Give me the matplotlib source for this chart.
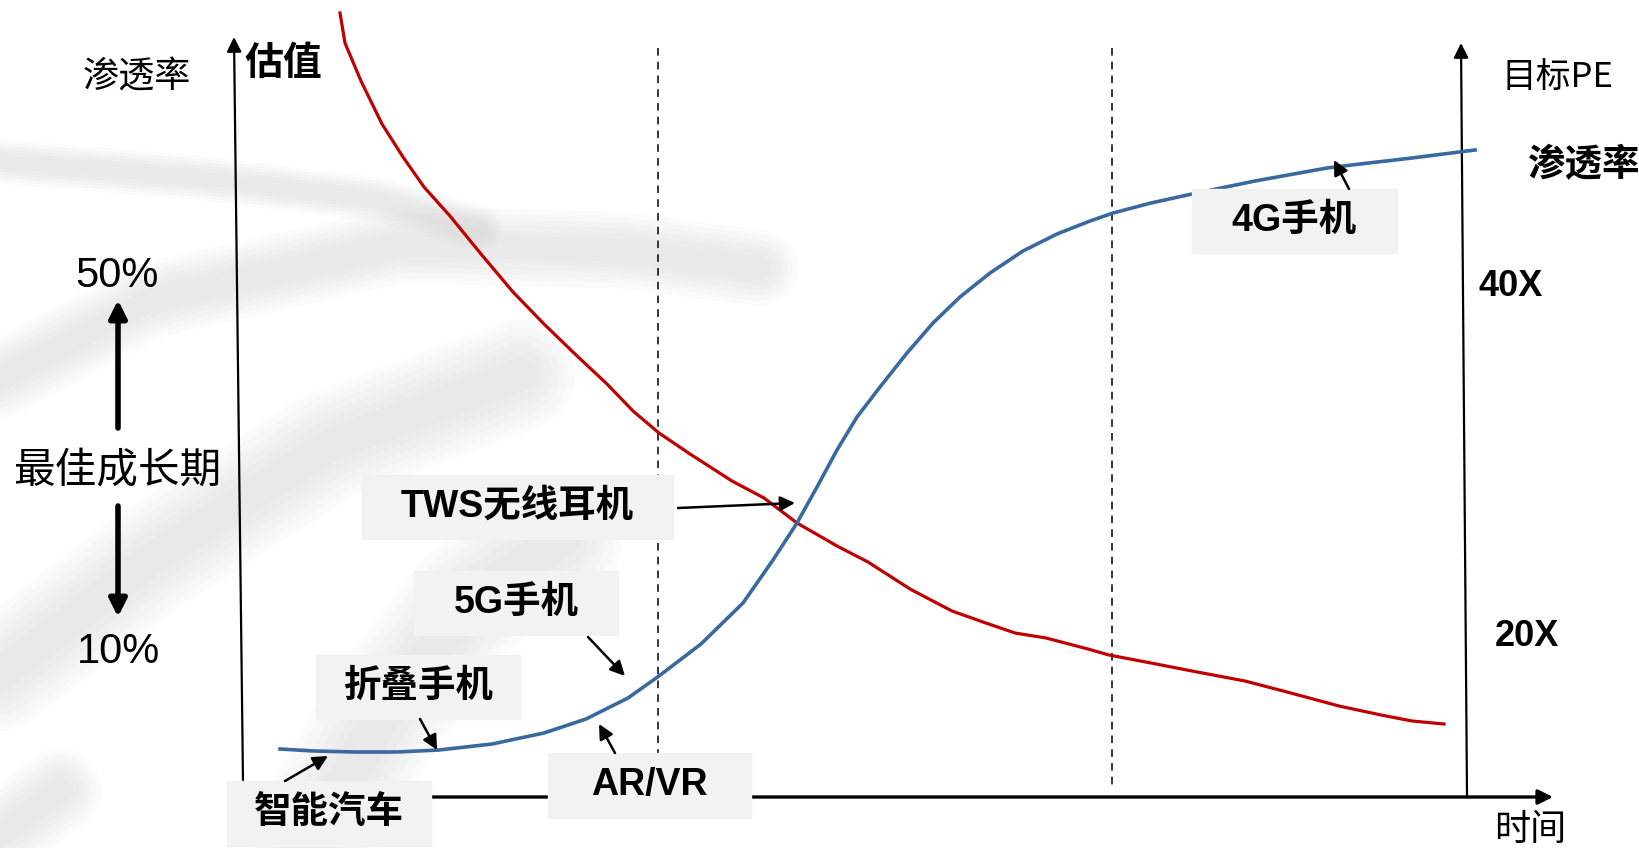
import matplotlib

matplotlib.use("Agg")

import matplotlib.pyplot as plt  # noqa: E402
import numpy as np  # noqa: E402
from matplotlib.patches import Rectangle  # noqa: E402

# Diagram drawn in picture units: x = time (left -> right), y = height from top.
# Valuation (target PE) curve, red.
pe_x = [340, 345, 361, 382, 403, 424, 450, 481, 513, 544, 575, 607, 633, 659,
        690, 732, 764, 797, 837, 868, 910, 952, 983, 1015, 1046, 1088, 1109,
        1151, 1192, 1245, 1287, 1339, 1381, 1412, 1444]
pe_y = [13, 43, 81, 124, 157, 187, 216, 254, 292, 324, 354, 384, 411, 433,
        454, 481, 498, 523, 546, 562, 589, 611, 622, 633, 638, 649, 655,
        663, 671, 681, 692, 706, 715, 721, 724]

# Penetration curve, blue (S-curve).
pen_x = [280, 314, 356, 397, 439, 492, 544, 586, 628, 659, 701, 743, 773, 797,
         817, 837, 857, 880, 907, 933, 960, 990, 1023, 1057, 1090, 1113, 1151,
         1192, 1255, 1327, 1360, 1412, 1475]
pen_y = [749, 751, 752, 752, 750, 744, 733, 719, 698, 676, 644, 603, 560, 523,
         487, 450, 417, 387, 353, 323, 297, 273, 251, 234, 221, 213, 203,
         194, 181, 168, 164, 158, 150]

# Stage boundaries on the time axis.
stage_x = [658, 1112]

# Products placed on the penetration curve.
products = ["TWS无线耳机", "5G手机", "折叠手机", "智能汽车", "AR/VR", "4G手机"]
# label box (x0, y0, x1, y1), arrow start, arrow end
product_layout = {
    "TWS无线耳机": ((362, 475, 673, 539), (678, 508), (795, 503)),
    "5G手机": ((414, 571, 618, 635), (588, 637), (625, 676)),
    "折叠手机": ((316, 655, 520, 719), (420, 719), (437, 750)),
    "智能汽车": ((227, 781, 431, 846), (285, 781), (328, 756)),
    "AR/VR": ((548, 753, 751, 818), (615, 753), (599, 724)),
    "4G手机": ((1192, 189, 1397, 253), (1349, 189), (1334, 160)),
}

BOLD = ["Liberation Sans", "Noto Sans CJK SC"]
CJK = ["Noto Sans CJK SC", "DejaVu Sans"]
RED = "#c00000"
BLUE = "#3869a0"
BOX = "#f2f2f2"

fig = plt.figure(figsize=(16.4, 8.48), dpi=100)
ax = fig.add_axes([0, 0, 1, 1])
ax.set_xlim(0, 1640)
ax.set_ylim(848, 0)
ax.axis("off")


def soft_band(pts, width):
    """Faint watermark stroke with blurred edges (stacked translucent strokes)."""
    xs, ys = zip(*pts)
    for w in np.linspace(width, width * 0.3, 6):
        ax.plot(xs, ys, color="#c8c8c8", alpha=0.07, lw=w,
                solid_capstyle="round", solid_joinstyle="round", zorder=0)


soft_band([(-20, 160), (200, 178), (380, 200), (480, 228)], 32)
soft_band([(-20, 390), (150, 300), (400, 245), (620, 250), (760, 268)], 55)
soft_band([(-20, 690), (150, 560), (330, 445), (520, 375)], 80)
soft_band([(300, 860), (380, 720), (470, 600), (560, 540)], 90)
soft_band([(-20, 850), (60, 790)], 60)

# stage separators
for x in stage_x:
    ax.plot([x, x], [48, 785], color="black", lw=1.1, ls=(0, (5, 4)), zorder=1)

# axes with arrow heads
axis_kw = dict(arrowstyle="-|>", color="black", mutation_scale=22, shrinkA=0, shrinkB=0)
ax.annotate("", xy=(234, 37), xytext=(243, 782), arrowprops=dict(lw=1.6, **axis_kw), zorder=1)
ax.annotate("", xy=(1461, 43), xytext=(1467, 795), arrowprops=dict(lw=1.6, **axis_kw), zorder=1)
ax.annotate("", xy=(1553, 797), xytext=(243, 797), arrowprops=dict(lw=2.4, **axis_kw), zorder=1)

# curves
ax.plot(pe_x, pe_y, color=RED, lw=2.3, zorder=2)
ax.plot(pen_x, pen_y, color=BLUE, lw=2.6, zorder=2)

# product labels with arrows
for name in products:
    (x0, y0, x1, y1), start, end = product_layout[name]
    ax.add_patch(Rectangle((x0, y0), x1 - x0, y1 - y0, color=BOX, zorder=3))
    ax.text((x0 + x1) / 2, (y0 + y1) / 2, name, ha="center", va="center",
            fontsize=27, fontweight="bold", family=BOLD, zorder=4)
    ax.annotate("", xy=end, xytext=start, zorder=5,
                arrowprops=dict(arrowstyle="-|>", color="black", lw=1.8,
                                mutation_scale=22, shrinkA=0, shrinkB=0))

# left side: growth window
ax.text(283, 63, "估值", ha="center", va="center", fontsize=28, fontweight="bold", family=CJK)
ax.text(137, 77, "渗透率", ha="center", va="center", fontsize=26, family=CJK)
ax.text(117, 276, "50%", ha="center", va="center", fontsize=30, family=["Liberation Sans"])
ax.text(119, 652, "10%", ha="center", va="center", fontsize=30, family=["Liberation Sans"])
ax.text(117, 471, "最佳成长期", ha="center", va="center", fontsize=30, family=CJK)
thick = dict(arrowstyle="-|>", color="black", lw=4, mutation_scale=26, shrinkA=0, shrinkB=0)
ax.annotate("", xy=(118, 300), xytext=(118, 428), arrowprops=thick)
ax.annotate("", xy=(118, 617), xytext=(118, 506), arrowprops=thick)

# right side: target PE
ax.text(1558, 77, "目标PE", ha="center", va="center", fontsize=25, family=CJK)
ax.text(1583, 165, "渗透率", ha="center", va="center", fontsize=27, fontweight="bold", family=CJK)
ax.text(1511, 286, "40X", ha="center", va="center", fontsize=26, fontweight="bold", family=BOLD)
ax.text(1527, 636, "20X", ha="center", va="center", fontsize=26, fontweight="bold", family=BOLD)
ax.text(1530, 830, "时间", ha="center", va="center", fontsize=26, family=CJK)

fig.savefig("out.png", dpi=100)
